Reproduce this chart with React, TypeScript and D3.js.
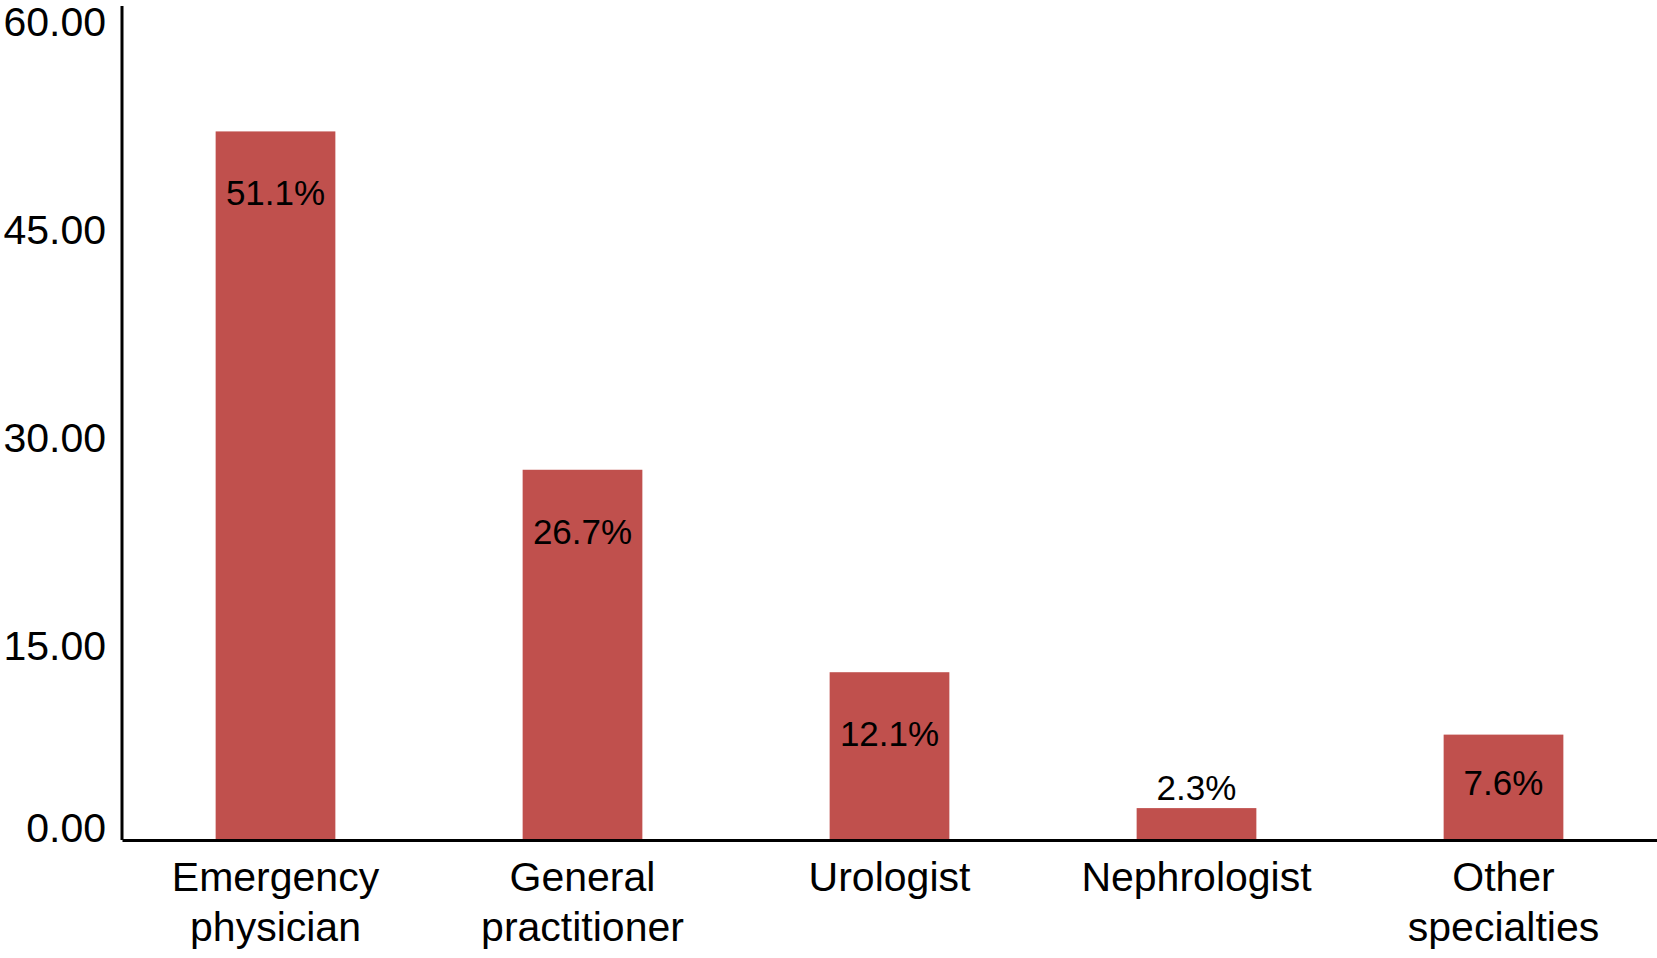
import { useRef, useEffect } from 'react';
import * as d3 from 'd3';

const categories = ['Emergency physician', 'General practitioner', 'Urologist', 'Nephrologist', 'Other specialties'];
const categoryLines = [['Emergency', 'physician'], ['General', 'practitioner'], ['Urologist'], ['Nephrologist'], ['Other', 'specialties']];
const values = [51.1, 26.7, 12.1, 2.3, 7.6];
const valueLabels = ['51.1%', '26.7%', '12.1%', '2.3%', '7.6%'];
const yTicks = [0, 15, 30, 45, 60];

const FONT = '"Liberation Sans", Arial, Helvetica, sans-serif';

export default function App() {
  const svgRef = useRef<SVGSVGElement>(null);

  useEffect(() => {
    if (!svgRef.current) return;
    const svg = d3.select(svgRef.current);
    svg.selectAll('*').remove();

    const width = 1657;
    const height = 958;
    const left = 122;
    const bottom = 840;
    const top = 8;

    const x = d3.scaleBand<string>()
      .domain(categories)
      .range([left, width])
      .paddingInner(0.61)
      .paddingOuter(0.305);

    const y = d3.scaleLinear().domain([0, 60]).range([bottom, top]);

    svg.attr('width', width).attr('height', height).attr('viewBox', `0 0 ${width} ${height}`);

    // Bars
    svg.append('g')
      .selectAll('rect')
      .data(values)
      .join('rect')
      .attr('x', (_, i) => x(categories[i])!)
      .attr('y', (d) => y(d))
      .attr('width', x.bandwidth())
      .attr('height', (d) => y(0) - y(d))
      .attr('fill', '#C0504D');

    // Value labels: inside the bar, or above it when the bar is short
    svg.append('g')
      .selectAll('text')
      .data(values)
      .join('text')
      .attr('x', (_, i) => x(categories[i])! + x.bandwidth() / 2)
      .attr('y', (d) => (y(0) - y(d) < 80 ? y(d) - 8 : Math.min(y(d) + 74, y(0) - 45)))
      .attr('text-anchor', 'middle')
      .style('font-family', FONT)
      .style('font-size', '35px')
      .attr('fill', '#000')
      .text((_, i) => valueLabels[i]);

    // Y axis
    svg.append('g')
      .attr('transform', `translate(${left},0)`)
      .call(d3.axisLeft(y).tickValues(yTicks).tickSize(0).tickPadding(16).tickFormat(d3.format('.2f')))
      .call((g) => {
        g.select('.domain').attr('stroke', '#000').attr('stroke-width', 3)
          .attr('d', `M0,${y(0)}V6`);
        g.selectAll('text')
          .attr('dy', null)
          .attr('y', (d: any) => (d === 0 ? 1 : 27))
          .attr('fill', '#000')
          .style('font-family', FONT)
          .style('font-size', '41px');
      });

    // X axis
    svg.append('g')
      .attr('transform', `translate(0,${bottom})`)
      .call(d3.axisBottom(x).tickSize(0).tickFormat(() => ''))
      .call((g) => {
        g.select('.domain').attr('stroke', '#000').attr('stroke-width', 3);
        g.selectAll('.tick').each(function (_, i) {
          const t = d3.select(this).select('text')
            .attr('y', 0).attr('dy', null)
            .attr('fill', '#000')
            .style('font-family', FONT)
            .style('font-size', '41px');
          categoryLines[i].forEach((line, j) => {
            t.append('tspan').attr('x', 0).attr('y', 51 + j * 50).text(line);
          });
        });
      });
  }, []);

  return (
    <div style={{ position: 'absolute', left: 0, top: 0, background: '#fff' }}>
      <svg ref={svgRef} style={{ display: 'block' }} />
    </div>
  );
}
